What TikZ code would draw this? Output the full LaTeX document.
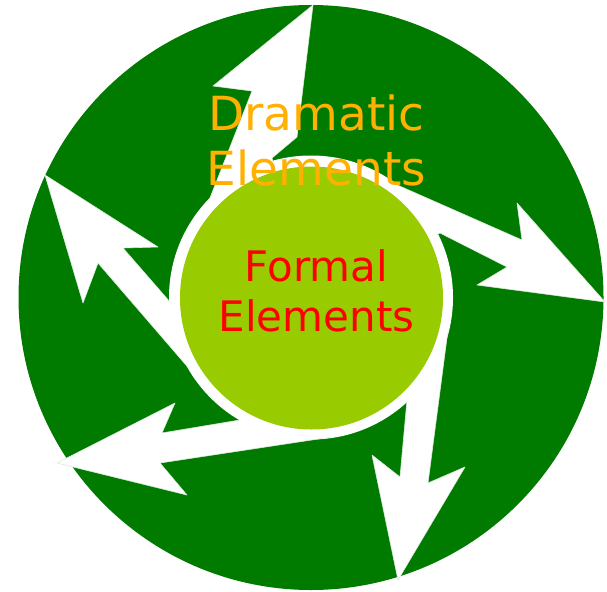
\documentclass[tikz,border=0pt]{standalone}
\usepackage{fontspec}
\setmainfont{DejaVu Sans}
\definecolor{bigGreen}{RGB}{0,123,0}
\definecolor{innerGreen}{RGB}{153,204,0}
\definecolor{dramOrange}{RGB}{255,176,0}
\definecolor{formRed}{RGB}{255,0,0}
\tikzset{
  whitearrow/.style={fill=white, draw=white!85!bigGreen, line width=0.6pt, line join=round},
  dramtext/.style={inner sep=0pt, text=dramOrange, font=\fontsize{47}{55}\selectfont, anchor=base},
  formtext/.style={inner sep=0pt, text=formRed, font=\fontsize{42}{50}\selectfont, anchor=base}
}
\begin{document}
\begin{tikzpicture}[x=1pt,y=-1pt]
\useasboundingbox (0,0) rectangle (607,591);
\coordinate (C) at (311,297.5);
% outer disc
\fill[bigGreen] (C) circle (292.5);
% white ring base
\fill[white] (C) circle (142);
% arrows
\fill[whitearrow] (C) -- (208,203) -- (252,91) -- (213,86) -- (313,5) -- (297,137) -- (272,158) -- cycle;
\fill[whitearrow] (C) -- (395,184) -- (522,240) -- (517,203) -- (605,302) -- (477,285) -- (507,267) -- (440,233) -- cycle;
\fill[whitearrow] (C) -- (448,330) -- (428,483) -- (465,467) -- (398,580) -- (372,455) -- (400,477) -- (407,400) -- cycle;
\fill[whitearrow] (C) -- (338,436) -- (160,463) -- (187,495) -- (57,463) -- (175,403) -- (162,433) -- (240,420) -- cycle;
\fill[whitearrow] (C) -- (170,302) -- (123,248) -- (158,247) -- (45,175) -- (83,303) -- (98,263) -- (192,372) -- cycle;
\fill[white] (C) circle (141);
% inner disc
\node[circle, fill=innerGreen, minimum size=263pt, inner sep=0pt] (inner) at (311.5,298) {};
% texts
\node[dramtext] (dram1) at (316.5,130) {Dramatic};
\node[dramtext] (dram2) at (316.5,185) {Elements};
\node[formtext] (form1) at (316.5,281) {Formal};
\node[formtext] (form2) at (316.5,331) {Elements};
\end{tikzpicture}
\end{document}
